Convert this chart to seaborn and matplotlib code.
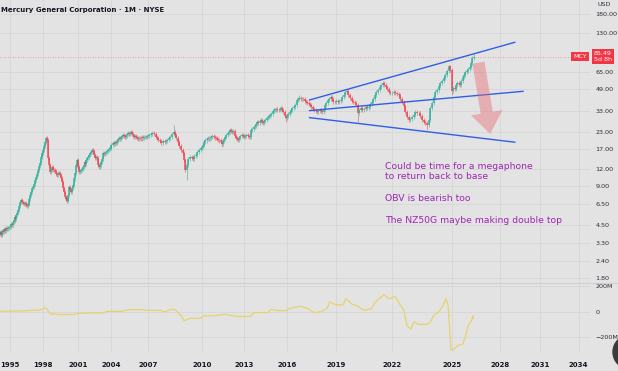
import numpy as np
import pandas as pd
import matplotlib
matplotlib.use("Agg")
import matplotlib.pyplot as plt
import seaborn as sns
from matplotlib.patches import FancyArrowPatch, Ellipse
import matplotlib.transforms as mtrans

# ---------------- data (monthly closes) ----------------
start_year = 1994
closes_1994_2003 = [
    3.9, 4.0, 3.8, 3.9, 4.1, 4.0, 4.2, 4.1, 4.3, 4.2, 4.3, 4.4,
    4.4, 4.6, 4.5, 4.8, 4.9, 5.2, 5.0, 5.4, 5.6, 5.9, 6.3, 6.8,
    7.0, 6.8, 6.7, 6.5, 6.6, 6.4, 6.3, 6.5, 6.6, 7.1, 7.6, 8.1,
    8.6, 8.8, 9.2, 9.9, 10.4, 11.0, 11.8, 12.6, 13.4, 14.8, 15.3, 15.9,
    16.8, 18.0, 19.3, 20.5, 20.0, 14.5, 13.0, 11.4, 11.8, 12.4, 11.9, 11.8,
    11.6, 11.0, 10.8, 11.3, 11.2, 10.8, 10.3, 9.6, 8.6, 8.1, 7.4, 7.1,
    7.2, 6.9, 7.6, 8.8, 8.4, 8.0, 8.6, 9.1, 10.2, 11.2, 12.9, 14.1,
    12.4, 11.4, 11.6, 11.8, 12.1, 12.4, 13.0, 13.6, 13.2, 14.0, 14.5, 14.8,
    15.3, 15.9, 16.3, 16.8, 16.4, 15.4, 14.6, 14.9, 14.5, 13.6, 13.0, 12.4,
    12.8, 13.5, 14.3, 15.9, 15.6, 16.0, 16.2, 16.5, 16.8, 17.2, 17.4, 17.8,
]
closes_2004_2013 = [
    18.4, 19.0, 18.6, 19.3, 18.8, 19.6, 20.2, 20.7, 20.4, 21.0, 21.5, 21.8,
    21.3, 21.0, 21.6, 22.2, 22.6, 22.0, 22.6, 22.9, 22.2, 21.6, 21.0, 21.3,
    21.0, 20.7, 20.4, 20.8, 20.7, 20.5, 20.9, 20.7, 21.0, 21.2, 20.9, 21.3,
    21.4, 21.8, 22.2, 22.6, 22.2, 21.0, 20.6, 20.0, 19.5, 19.0, 19.6, 19.3,
    19.6, 20.0, 20.6, 21.0, 22.2, 23.0, 21.8, 20.6, 19.3, 18.0, 16.8, 16.0,
    14.0, 11.8, 12.9, 14.3, 14.8, 14.5, 14.3, 15.0, 15.4, 16.2, 16.8, 17.3,
    17.7, 18.4, 19.3, 19.8, 20.3, 20.7, 20.5, 20.7, 21.0, 21.3, 21.0, 20.8,
    20.7, 20.4, 20.0, 19.8, 19.3, 18.7, 19.6, 20.4, 21.0, 21.8, 22.6, 23.0,
    23.8, 23.4, 23.0, 23.4, 21.5, 20.6, 20.3, 20.0, 20.6, 21.4, 21.8, 21.4,
    21.0, 21.4, 21.8, 21.3, 21.0, 21.0, 23.8, 24.2, 25.1, 25.6, 26.5, 27.3,
]
closes_2014_2026 = [
    27.0, 27.8, 28.3, 27.5, 26.9, 27.6, 28.5, 29.3, 29.8, 30.3, 30.9, 31.5,
    33.0, 33.7, 34.0, 34.3, 33.9, 33.7, 34.3, 34.9, 33.5, 32.5, 30.5, 29.3,
    30.5, 31.5, 32.5, 33.5, 34.9, 35.5, 36.8, 40.1, 41.0, 41.6, 40.5, 41.0,
    40.5, 39.5, 38.8, 38.0, 37.2, 36.8, 35.5, 34.3, 33.7, 33.0, 32.5, 33.1,
    33.7, 33.1, 32.8, 34.0, 36.8, 38.0, 40.1, 41.0, 42.3, 40.5, 38.8, 39.0,
    39.5, 38.8, 39.5, 40.1, 42.0, 43.8, 46.1, 46.8, 44.0, 41.5, 39.6, 38.8,
    38.0, 36.8, 32.0, 33.5, 34.9, 33.7, 34.3, 35.5, 35.0, 35.5, 37.5, 38.8,
    40.5, 43.8, 46.1, 48.0, 50.3, 52.0, 54.0, 52.5, 50.3, 48.5, 46.1, 45.3,
    45.3, 46.1, 45.5, 44.8, 43.8, 41.0, 38.8, 36.0, 32.5, 30.0, 28.3, 29.0,
    29.8, 31.0, 32.5, 32.0, 32.0, 30.5, 28.3, 27.5, 26.9, 26.0, 28.3, 35.0,
    38.1, 42.0, 46.1, 47.8, 51.0, 54.0, 56.0, 58.9, 62.0, 67.0, 72.0, 68.0,
    47.0, 49.5, 49.0, 52.0, 54.0, 53.0, 52.1, 56.0, 60.0, 62.5, 65.4, 67.0,
    69.0, 71.4, 77.0, 83.5, 85.49,
]
# notable wick extremes: (year, month, value)
wick_highs = [(1998, 4, 21.4), (2008, 6, 25.9), (2016, 10, 43.5), (2019, 8, 48.3),
              (2021, 7, 56.0), (2024, 11, 74.5), (2026, 5, 89.6)]
wick_lows = [(2000, 2, 6.6), (2009, 3, 9.9), (2011, 6, 17.7), (2015, 12, 27.3),
             (2020, 3, 27.3), (2023, 10, 23.8), (2025, 1, 44.0)]
last_price = 85.49

# On-balance volume (millions), points read along the lower pane
obv_years = [1994.1, 1995.9, 1997.7, 1998.2, 1998.6, 1999.45, 2000.74, 2000.9, 2002.0,
             2003.33, 2003.6, 2004.8, 2005.4, 2006.6, 2006.84, 2007.72, 2007.9, 2008.3,
             2008.5, 2008.7, 2008.9, 2009.0, 2009.3, 2009.9, 2010.14, 2010.86, 2011.64,
             2012.43, 2013.43, 2013.7, 2014.67, 2014.88, 2015.44, 2015.93, 2016.12,
             2016.8, 2017.22, 2017.65, 2018.08, 2018.45, 2018.63, 2019.0, 2019.37,
             2019.53, 2019.86, 2020.12, 2020.5, 2020.9, 2021.09, 2021.57, 2021.84,
             2022.16, 2022.4, 2022.6, 2022.75, 2022.95, 2023.1, 2023.3, 2023.75, 2023.9,
             2024.1, 2024.35, 2024.55, 2024.7, 2024.8, 2024.95, 2025.15, 2025.37,
             2025.67, 2025.89, 2026.0, 2026.2, 2026.3, 2026.35]
obv_values = [5, 8, 15, 32, -15, -20, -20, -12, -8,
              -8, 5, 5, 18, 18, 12, 12, 0, 20,
              20, -8, -40, -70, -50, -50, -30, -30, -18,
              -35, -35, -5, -5, 20, 10, 10, 26,
              45, 30, -5, 2, 28, 80, 55, 55,
              103, 60, 48, 13, 25, 75, 136, 103,
              122, 58, 12, -108, -135, -78, -97, -97, -83,
              -23, 0, 50, 103, 60, -300, -290, -262,
              -250, -166, -108, -70, -28, -50]

# megaphone trend lines and the arrow (year, price)
upper_line = ([2017.37, 2029.10], [40.1, 109.9])
middle_line = ([2017.37, 2029.73], [33.3, 46.7])
lower_line = ([2017.37, 2029.10], [29.5, 19.2])
arrow_from = (2026.61, 80.7)
arrow_to = (2027.39, 21.2)

price_ticks = [1.8, 2.4, 3.3, 4.5, 6.5, 9, 12, 17, 23, 33, 49, 65, 130, 180]
obv_ticks = [-200, 0, 200]
obv_tick_labels = ["\u2212200M", "0", "200M"]
year_ticks = [1995, 1998, 2001, 2004, 2007, 2010, 2013, 2016, 2019, 2022, 2025, 2028, 2031, 2034]
# where the time-scale labels sit across the 618 px canvas (layout)
year_tick_px = [9.9, 43.4, 78, 111.5, 148, 202, 244, 287, 336, 392, 452, 500.5, 540, 578.6]

notes = ["Could be time for a megaphone", "to return back to base",
         "OBV is bearish too", "The NZ50G maybe making double top"]
note_prices = [12.5, 10.6, 7.13, 4.94]
note_year = 2021.6
title = "Mercury General Corporation \u00b7 1M \u00b7 NYSE"

# ---------------- frame ----------------
closes = closes_1994_2003 + closes_2004_2013 + closes_2014_2026
n = len(closes)
years = np.array([start_year + i / 12.0 for i in range(n)])
df = pd.DataFrame({"t": years, "close": closes})
df["open"] = df["close"].shift(1).fillna(df["close"].iloc[0] * 0.97)
df["top"] = df[["open", "close"]].max(axis=1)
df["bot"] = df[["open", "close"]].min(axis=1)
wick = 0.035
df["high"] = df["top"] * (1 + wick)
df["low"] = df["bot"] * (1 - wick)
for y, m, v in wick_highs:
    df.loc[(y - start_year) * 12 + m - 1, "high"] = v
for y, m, v in wick_lows:
    df.loc[(y - start_year) * 12 + m - 1, "low"] = v
df["up"] = df["close"] >= df["open"]
obv = pd.DataFrame({"t": obv_years, "obv": obv_values})

# ---------------- style ----------------
BG = "#e3e3e3"
GRID = "#d7d7d7"
sns.set_theme(style="whitegrid")
plt.rcParams.update({
    "figure.facecolor": BG, "axes.facecolor": BG, "grid.color": GRID,
    "grid.linewidth": 0.6, "axes.edgecolor": BG,
})
plt.rcParams["font.family"] = ["DejaVu Sans"]

W, H = 618, 371
fig = plt.figure(figsize=(W / 100, H / 100), dpi=100)
right_px = 590
axp = fig.add_axes([0, 1 - 282 / H, right_px / W, 282 / H])
axo = fig.add_axes([0, 1 - 352 / H, right_px / W, (352 - 283) / H], sharex=axp)

ext_years = np.array([1900.0] + year_ticks + [2200.0])
px = np.array(year_tick_px, float)
ext_px = np.concatenate([[px[0] - (year_ticks[0] - 1900) * (px[1] - px[0]) / 3], px,
                         [px[-1] + (2200 - year_ticks[-1]) * (px[-1] - px[-2]) / 3]])


def fwd(x):
    return np.interp(np.asarray(x, float), ext_years, ext_px)


def inv(p):
    return np.interp(np.asarray(p, float), ext_px, ext_years)


for a in (axp, axo):
    a.set_xscale("function", functions=(fwd, inv))
    for s in a.spines.values():
        s.set_visible(False)

# ---------------- price pane ----------------
axp.set_yscale("log")
axp.set_ylim(1.675, 229.7)
up_c, dn_c = "#22ab94", "#f23645"
colors = np.where(df["up"], up_c, dn_c)
axp.vlines(df["t"], df["low"], df["high"], colors=colors, lw=0.5, alpha=0.7, zorder=3)
axp.vlines(df["t"], df["bot"], df["top"], colors=colors, lw=1.2, alpha=0.8, zorder=4)

for xs, ys in (upper_line, middle_line, lower_line):
    sns.lineplot(x=xs, y=ys, ax=axp, color="#2f5ee8", lw=1.0, zorder=5)

arr = FancyArrowPatch(arrow_from, arrow_to,
                      arrowstyle="simple,head_length=1.4,head_width=2.1,tail_width=0.8",
                      mutation_scale=11, color="#e8656f", alpha=0.42, lw=0, zorder=6)
axp.add_patch(arr)

axp.axhline(last_price, color="#f23645", lw=0.6, ls=(0, (1, 2)), alpha=0.55, zorder=2)

axp.set_yticks(price_ticks)
axp.set_yticklabels([f"{v:.2f}" for v in price_ticks])
axp.yaxis.set_minor_locator(matplotlib.ticker.NullLocator())
axp.yaxis.tick_right()
axp.tick_params(axis="y", length=0, pad=4, labelsize=4.6, labelcolor="#2a2e39")
axp.tick_params(axis="x", length=0, labelbottom=False)
axp.set_xticks(year_ticks)
axp.grid(True, which="major", color=GRID, lw=0.6)
axp.set_xlabel("")
axp.set_ylabel("")

purple = "#9c27b0"
for txt, pv in zip(notes, note_prices):
    axp.text(note_year, pv, txt, color=purple, fontsize=6.7, va="center", ha="left", zorder=7)

fig.text(1 / W, 1 - 10 / H, title, fontsize=5.0, fontweight="bold", color="#131722",
         va="center", ha="left")
fig.text(604 / W, 1 - 5 / H, "USD", fontsize=4.6, color="#2a2e39", va="center", ha="center")

# last-price labels
yt = mtrans.blended_transform_factory(axp.transAxes, axp.transData)
axp.text(1.0 + 4 / right_px, last_price, "85.49\n5d 8h", transform=yt, fontsize=4.6,
         color="white", ha="left", va="center", linespacing=1.15, zorder=9, clip_on=False,
         bbox=dict(boxstyle="square,pad=0.3", fc="#f23645", ec="none"))
axp.text(1.0 - 3 / right_px, last_price, "MCY", transform=yt, fontsize=4.6,
         color="white", ha="right", va="center", zorder=9, clip_on=False,
         bbox=dict(boxstyle="square,pad=0.3", fc="#f23645", ec="none"))

# ---------------- OBV pane ----------------
sns.lineplot(data=obv, x="t", y="obv", ax=axo, color="#e6d36c", lw=0.9)
axo.set_ylim(-314, 227)
axo.set_yticks(obv_ticks)
axo.set_yticklabels(obv_tick_labels)
axo.yaxis.tick_right()
axo.tick_params(axis="y", length=0, pad=4, labelsize=4.6, labelcolor="#2a2e39")
axo.set_xticks(year_ticks)
axo.set_xticklabels([str(y) for y in year_ticks])
axo.tick_params(axis="x", length=0, pad=7, labelsize=5.0, labelcolor="#131722")
for lab in axo.get_xticklabels():
    lab.set_fontweight("bold")
axo.grid(True, color=GRID, lw=0.6)
axo.set_xlabel("")
axo.set_ylabel("")
axp.set_xlim(float(inv(0)), float(inv(right_px)))

# pane separator
fig.add_artist(plt.Line2D([0, 1], [1 - 283 / H, 1 - 283 / H], color="#d0d0d0", lw=0.8))
# floating UI button partly visible in the bottom-right corner
fig.add_artist(Ellipse((630 / W, 1 - 352 / H), 34 / W, 34 / H, transform=fig.transFigure,
                       color="#3b3b3b", zorder=10))

fig.savefig("out.png", dpi=100, facecolor=BG)
